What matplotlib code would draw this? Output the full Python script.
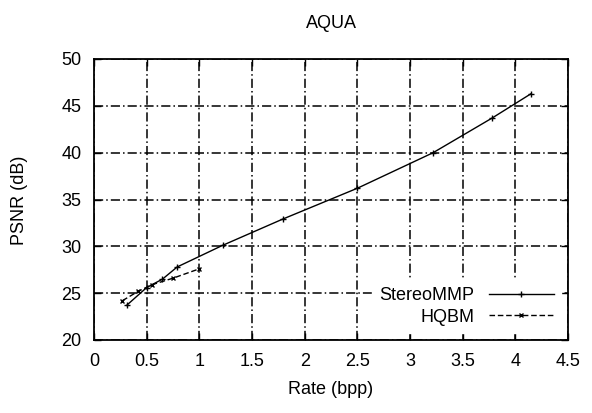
import matplotlib
matplotlib.use("Agg")
import matplotlib.pyplot as plt

plt.rcParams['font.family'] = ['Liberation Sans', 'DejaVu Sans']

# StereoMMP curve (rate in bpp, PSNR in dB)
stereo_rate = [0.31, 0.50, 0.65, 0.79, 1.22, 1.79, 2.50, 3.22, 3.78, 4.15]
stereo_psnr = [23.7, 25.6, 26.5, 27.8, 30.1, 32.9, 36.2, 40.0, 43.7, 46.3]

# HQBM curve
hqbm_rate = [0.27, 0.42, 0.55, 0.75, 1.00]
hqbm_psnr = [24.2, 25.2, 25.9, 26.6, 27.6]

x_ticks = [0, 0.5, 1, 1.5, 2, 2.5, 3, 3.5, 4, 4.5]
x_labels = ['0', '0.5', '1', '1.5', '2', '2.5', '3', '3.5', '4', '4.5']
y_ticks = [20, 25, 30, 35, 40, 45, 50]

W, H = 592, 413
fig = plt.figure(figsize=(W / 100, H / 100), dpi=100)
ax = fig.add_axes([94 / W, 1 - 340 / H, (568 - 94) / W, (340 - 59) / H])

ax.plot(stereo_rate, stereo_psnr, color='black', linestyle='-', linewidth=1.0,
        marker='+', markersize=4, markeredgewidth=1.0, label='StereoMMP')
ax.plot(hqbm_rate, hqbm_psnr, color='black', linestyle=(0, (4, 2)), linewidth=1.0,
        marker='x', markersize=3.5, markeredgewidth=1.0, label='HQBM')

ax.set_xlim(0, 4.5)
ax.set_ylim(20, 50)
ax.set_xticks(x_ticks)
ax.set_xticklabels(x_labels)
ax.set_yticks(y_ticks)

ax.grid(True, color='black', linestyle=(0, (6, 2, 1, 2)), linewidth=1.1)
ax.tick_params(direction='in', top=True, right=True, length=5, width=1.0,
               labelsize=13, pad=9)
for s in ax.spines.values():
    s.set_linewidth(1.3)

leg = ax.legend(loc='lower right', markerfirst=False, frameon=True, fontsize=13,
                handlelength=3.6, borderaxespad=0.4, labelspacing=0.25,
                fancybox=False, framealpha=1)
leg.get_frame().set_edgecolor('white')
leg.get_frame().set_facecolor('white')
for t in leg.get_texts():
    t.set_ha('right')

fig.text(331 / W, 1 - 23 / H, 'AQUA', ha='center', va='center', fontsize=13)
fig.text(331 / W, 1 - 390 / H, 'Rate (bpp)', ha='center', va='center', fontsize=13)
fig.text(20 / W, 1 - 200 / H, 'PSNR (dB)', ha='center', va='center',
         rotation=90, fontsize=13)

fig.savefig('out.png', dpi=100)
